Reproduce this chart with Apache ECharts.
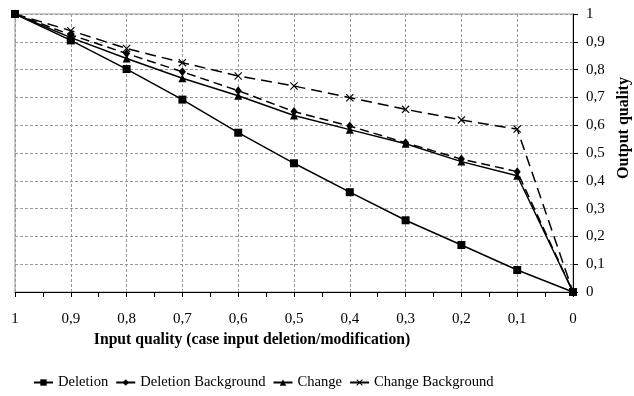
<!DOCTYPE html>
<html>
<head>
<meta charset="utf-8">
<script src="https://cdn.jsdelivr.net/npm/echarts@6/dist/echarts.min.js"></script>
<style>
html,body{margin:0;padding:0;background:#fff;}
#chart{width:634px;height:396px;}
</style>
</head>
<body>
<div id="chart"></div>
<script>
var inputQuality = [1, 0.9, 0.8, 0.7, 0.6, 0.5, 0.4, 0.3, 0.2, 0.1, 0];
var deletion = [1, 0.905, 0.802, 0.692, 0.573, 0.463, 0.359, 0.258, 0.169, 0.079, 0];
var deletionBackground = [1, 0.925, 0.858, 0.792, 0.724, 0.649, 0.597, 0.537, 0.478, 0.433, 0];
var change = [1, 0.915, 0.840, 0.769, 0.706, 0.635, 0.584, 0.533, 0.469, 0.418, 0];
var changeBackground = [1, 0.940, 0.876, 0.825, 0.777, 0.741, 0.699, 0.657, 0.619, 0.586, 0];
var seriesNames = ['Deletion', 'Deletion Background', 'Change', 'Change Background'];

function pairs(arr) { return inputQuality.map(function (x, i) { return [x, arr[i]]; }); }
function fmt(v) { return String(Math.round(v * 10) / 10).replace('.', ','); }

var font = '"Liberation Serif", "Times New Roman", serif';
var crossPath = 'path://M0,1L1,0L5,4L9,0L10,1L6,5L10,9L9,10L5,6L1,10L0,9L4,5Z';

var chart = echarts.init(document.getElementById('chart'));
chart.setOption({
  animation: false,
  backgroundColor: '#fff',
  textStyle: { fontFamily: font, color: '#000' },
  grid: { left: 15, right: 61, top: 14, bottom: 104, show: true, borderColor: '#999', borderWidth: 1, outerBoundsMode: 'none', containLabel: false },
  legend: {
    bottom: 1,
    left: 28,
    itemWidth: 19,
    itemHeight: 8,
    itemGap: 7,
    lineStyle: { type: 'solid' },
    textStyle: { fontFamily: font, fontSize: 14.6, color: '#000' },
    data: seriesNames.map(function (n) { return { name: n }; })
  },
  xAxis: {
    type: 'value',
    inverse: true,
    min: 0, max: 1, interval: 0.1,
    name: 'Input quality (case input deletion/modification)',
    nameLocation: 'middle',
    nameGap: 40,
    nameTextStyle: { fontFamily: font, fontSize: 15.7, fontWeight: 'bold', color: '#000', padding: [0, 84, 0, 0] },
    axisLine: { show: true, lineStyle: { color: '#000', width: 1 } },
    axisTick: { show: true, length: 5, lineStyle: { color: '#000' } },
    minorTick: { show: true, splitNumber: 2, length: 5, lineStyle: { color: '#000' } },
    axisLabel: { formatter: fmt, fontFamily: font, fontSize: 15, color: '#000', margin: 20 },
    splitLine: { show: true, lineStyle: { color: '#999', type: [3, 2], width: 1 } }
  },
  yAxis: {
    type: 'value',
    position: 'right',
    min: 0, max: 1, interval: 0.1,
    name: 'Output quality',
    nameLocation: 'middle',
    nameRotate: 90,
    nameGap: 36,
    nameTextStyle: { fontFamily: font, fontSize: 16, fontWeight: 'bold', color: '#000', padding: [0, 0, 0, 50] },
    axisLine: { show: true, lineStyle: { color: '#000', width: 1 } },
    axisTick: { show: true, length: 5, inside: false, lineStyle: { color: '#000' } },
    axisLabel: { formatter: fmt, fontFamily: font, fontSize: 15, color: '#000', margin: 13 },
    splitLine: { show: true, lineStyle: { color: '#999', type: [3, 2], width: 1 } }
  },
  series: [
    {
      name: seriesNames[0], type: 'line', data: pairs(deletion),
      symbol: 'rect', symbolSize: 8,
      lineStyle: { color: '#000', width: 1.5 }, itemStyle: { color: '#000' }
    },
    {
      name: seriesNames[1], type: 'line', data: pairs(deletionBackground),
      symbol: 'diamond', symbolSize: [7, 9],
      lineStyle: { color: '#000', width: 1.5, type: [9, 5] }, itemStyle: { color: '#000' }
    },
    {
      name: seriesNames[2], type: 'line', data: pairs(change),
      symbol: 'triangle', symbolSize: 8,
      lineStyle: { color: '#000', width: 1.5 }, itemStyle: { color: '#000' }
    },
    {
      name: seriesNames[3], type: 'line', data: pairs(changeBackground),
      symbol: crossPath, symbolSize: 8,
      lineStyle: { color: '#000', width: 1.5, type: [11, 6] }, itemStyle: { color: '#000' }
    }
  ]
});
</script>
</body>
</html>
